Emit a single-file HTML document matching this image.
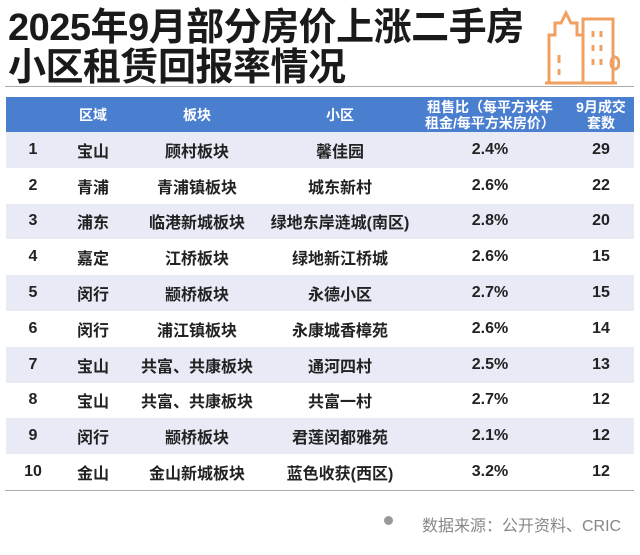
<!DOCTYPE html>
<html><head><meta charset="utf-8"><style>
body{margin:0;width:640px;height:555px;background:#fff;font-family:"Liberation Sans","Noto Sans CJK SC",sans-serif;position:relative;overflow:hidden}
.t{position:absolute;left:8px;font-size:38px;font-weight:bold;color:#1a1a1a;letter-spacing:-0.5px;line-height:40px}
.sep{position:absolute;left:5px;right:6px;top:86px;height:1px;background:#aaa}
table{position:absolute;left:6px;top:97px;width:628px;border-collapse:collapse}
th{background:#4a7fd0;color:#fff;font-size:14px;font-weight:bold;height:35px;line-height:16px;padding:0}
td{font-size:16px;font-weight:bold;color:#222;height:35.8px;padding:0;text-align:center}
tr.s td{background:#e8eaf6}
.bot{position:absolute;left:5px;right:6px;top:490px;height:1px;background:#aaa}
.src{position:absolute;left:422px;top:512px;font-size:16px;color:#888}
.dot{position:absolute;left:384px;top:516px;width:9px;height:9px;border-radius:50%;background:#999}
</style></head><body>
<div class="t" style="top:8px">2025年9月部分房价上涨二手房</div>
<div class="t" style="top:48px">小区租赁回报率情况</div>
<svg style="position:absolute;left:545px;top:5px" width="75" height="80" viewBox="0 0 75 80" fill="none" stroke="#f0a060" stroke-width="3">
<path d="M4 78V30h6V18h6l5-10 5 10h6v12h6v48"/><path d="M38 78V14h30v64"/><path d="M0 78h72"/>
<path d="M14 50v8M14 64v6M48 26v6M56 26v6M48 40v6M56 40v6M48 54v6M56 54v6M66 58a4 6 0 1 1 0 .1"/>
</svg>
<div class="sep"></div>
<table>
<colgroup><col style="width:54px"><col style="width:66px"><col style="width:142px"><col style="width:144px"><col style="width:156px"><col style="width:66px"></colgroup>
<tr><th></th><th>区域</th><th>板块</th><th>小区</th><th>租售比（每平方米年<br>租金/每平方米房价）</th><th>9月成交<br>套数</th></tr>
<tr class="s"><td>1</td><td>宝山</td><td>顾村板块</td><td>馨佳园</td><td>2.4%</td><td>29</td></tr>
<tr><td>2</td><td>青浦</td><td>青浦镇板块</td><td>城东新村</td><td>2.6%</td><td>22</td></tr>
<tr class="s"><td>3</td><td>浦东</td><td>临港新城板块</td><td>绿地东岸涟城(南区)</td><td>2.8%</td><td>20</td></tr>
<tr><td>4</td><td>嘉定</td><td>江桥板块</td><td>绿地新江桥城</td><td>2.6%</td><td>15</td></tr>
<tr class="s"><td>5</td><td>闵行</td><td>颛桥板块</td><td>永德小区</td><td>2.7%</td><td>15</td></tr>
<tr><td>6</td><td>闵行</td><td>浦江镇板块</td><td>永康城香樟苑</td><td>2.6%</td><td>14</td></tr>
<tr class="s"><td>7</td><td>宝山</td><td>共富、共康板块</td><td>通河四村</td><td>2.5%</td><td>13</td></tr>
<tr><td>8</td><td>宝山</td><td>共富、共康板块</td><td>共富一村</td><td>2.7%</td><td>12</td></tr>
<tr class="s"><td>9</td><td>闵行</td><td>颛桥板块</td><td>君莲闵都雅苑</td><td>2.1%</td><td>12</td></tr>
<tr><td>10</td><td>金山</td><td>金山新城板块</td><td>蓝色收获(西区)</td><td>3.2%</td><td>12</td></tr>
</table>
<div class="bot"></div>
<div class="dot"></div>
<div class="src">数据来源：公开资料、CRIC</div>
</body></html>
